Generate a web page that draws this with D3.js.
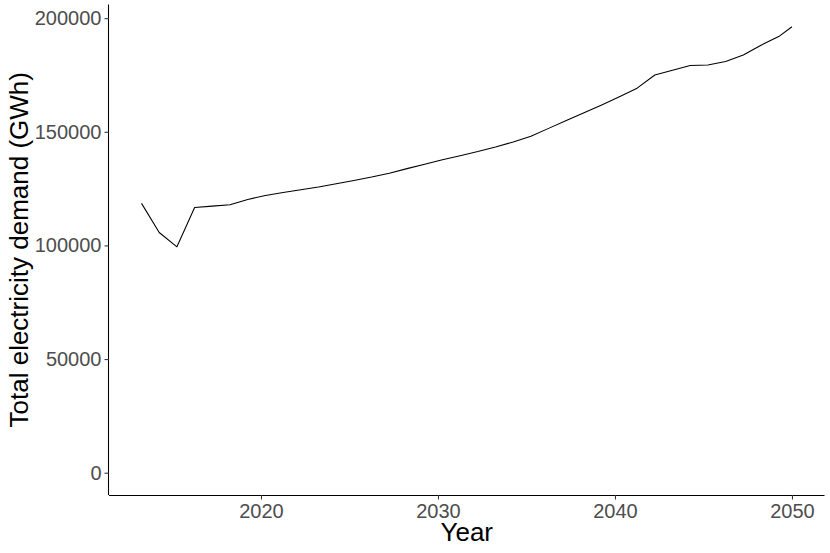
<!DOCTYPE html>
<html>
<head>
<meta charset="utf-8">
<script src="https://cdn.jsdelivr.net/npm/d3@7"></script>
<style>
  html, body { margin: 0; padding: 0; background: #fff; }
  svg { display: block; }
</style>
</head>
<body>
<svg id="chart" width="830" height="553"></svg>
<script>
// ---- data ----
const years = [2013.25, 2014.25, 2015.25, 2016.25, 2017.25, 2018.25, 2019.25, 2020.25,
  2021.25, 2022.25, 2023.25, 2024.25, 2025.25, 2026.25, 2027.25, 2028.25, 2029.25,
  2030.25, 2031.25, 2032.25, 2033.25, 2034.25, 2035.25, 2036.25, 2037.25, 2038.25,
  2039.25, 2040.25, 2041.25, 2042.25, 2043.25, 2044.25, 2045.25, 2046.25, 2047.25,
  2048.25, 2049.25, 2050];
const demand = [118500, 105700, 99400, 116700, 117300, 117900, 120200, 122000,
  123300, 124500, 125700, 127100, 128600, 130100, 131800, 133800, 135700,
  137700, 139500, 141300, 143300, 145500, 148000, 151500, 155000, 158400,
  161800, 165400, 169200, 175000, 177100, 179200, 179400, 180900, 183800,
  188100, 191900, 196200];
const xTicks = [2020, 2030, 2040, 2050];
const yTicks = [0, 50000, 100000, 150000, 200000];
const xTitle = "Year";
const yTitle = "Total electricity demand (GWh)";

(function () {
const data = years.map((yr, i) => ({ x: yr, y: demand[i] }));

// ---- layout ----
const pLeft = 109, pRight = 824.5, pTop = 4.5, pBottom = 495;
const svg = d3.select("#chart");
const font = "'Liberation Sans', Arial, Helvetica, sans-serif";

const xMin = d3.min(years), xMax = d3.max(years);
const xPad = (xMax - xMin) * 0.05;
const x = d3.scaleLinear().domain([xMin - xPad, xMax + xPad]).range([pLeft, pRight]);

const yLo = 0, yHi = d3.max(demand);
const yPad = (yHi - yLo) * 0.05;
const y = d3.scaleLinear().domain([yLo - yPad, yHi + yPad]).range([pBottom, pTop]);

// line
svg.append("path")
  .datum(data)
  .attr("fill", "none")
  .attr("stroke", "#000")
  .attr("stroke-width", 1.07)
  .attr("stroke-linejoin", "round")
  .attr("d", d3.line().x(d => x(d.x)).y(d => y(d.y)));

// x axis
svg.append("g")
  .attr("transform", `translate(0,${pBottom})`)
  .call(d3.axisBottom(x).tickValues(xTicks).tickFormat(d3.format("d")).tickSize(4.5).tickPadding(4))
  .call(g => g.select(".domain").attr("stroke", "#000").attr("stroke-width", 1.07)
      .attr("d", `M${pLeft},0.5H${pRight}`))
  .call(g => g.selectAll(".tick line").attr("stroke", "#333").attr("stroke-width", 1.07))
  .call(g => g.selectAll(".tick text").attr("fill", "#4D4D4D")
      .attr("font-family", font).attr("font-size", "20px"));

// y axis
svg.append("g")
  .attr("transform", `translate(${pLeft},0)`)
  .call(d3.axisLeft(y).tickValues(yTicks).tickFormat(d3.format("d")).tickSize(4.5).tickPadding(3))
  .call(g => g.select(".domain").attr("stroke", "#000").attr("stroke-width", 1.07)
      .attr("d", `M-0.5,${pTop}V${pBottom}`))
  .call(g => g.selectAll(".tick line").attr("stroke", "#333").attr("stroke-width", 1.07))
  .call(g => g.selectAll(".tick text").attr("fill", "#4D4D4D")
      .attr("font-family", font).attr("font-size", "20px"));

// axis titles
svg.append("text")
  .attr("x", (pLeft + pRight) / 2)
  .attr("y", 541)
  .attr("text-anchor", "middle")
  .attr("font-family", font)
  .attr("font-size", "26px")
  .attr("fill", "#000")
  .text(xTitle);

svg.append("text")
  .attr("transform", `translate(28,${(pTop + pBottom) / 2}) rotate(-90)`)
  .attr("text-anchor", "middle")
  .attr("font-family", font)
  .attr("font-size", "26px")
  .attr("fill", "#000")
  .text(yTitle);
})();
</script>
</body>
</html>
